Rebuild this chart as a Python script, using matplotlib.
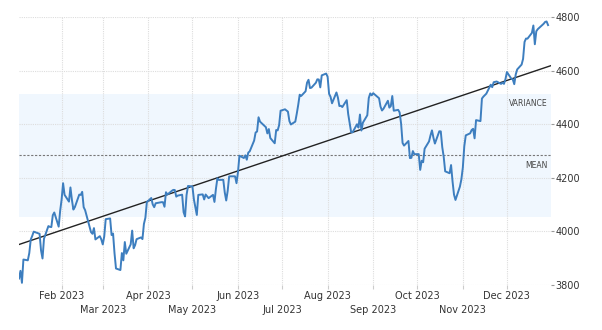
#!/usr/bin/env python3

import numpy as np
import pandas as pd
import matplotlib
matplotlib.use("Agg")
import matplotlib.pyplot as plt
import matplotlib.dates as mdates

# daily closes, 2023
dates = pd.to_datetime([
    "2023-01-03", "2023-01-04", "2023-01-05", "2023-01-06", "2023-01-09", "2023-01-10",
    "2023-01-11", "2023-01-12", "2023-01-13", "2023-01-17", "2023-01-18", "2023-01-19",
    "2023-01-20", "2023-01-23", "2023-01-24", "2023-01-25", "2023-01-26", "2023-01-27",
    "2023-01-30", "2023-01-31", "2023-02-01", "2023-02-02", "2023-02-03", "2023-02-06",
    "2023-02-07", "2023-02-08", "2023-02-09", "2023-02-10", "2023-02-13", "2023-02-14",
    "2023-02-15", "2023-02-16", "2023-02-17", "2023-02-21", "2023-02-22", "2023-02-23",
    "2023-02-24", "2023-02-27", "2023-02-28", "2023-03-01", "2023-03-02", "2023-03-03",
    "2023-03-06", "2023-03-07", "2023-03-08", "2023-03-09", "2023-03-10", "2023-03-13",
    "2023-03-14", "2023-03-15", "2023-03-16", "2023-03-17", "2023-03-20", "2023-03-21",
    "2023-03-22", "2023-03-23", "2023-03-24", "2023-03-27", "2023-03-28", "2023-03-29",
    "2023-03-30", "2023-03-31", "2023-04-03", "2023-04-04", "2023-04-05", "2023-04-06",
    "2023-04-10", "2023-04-11", "2023-04-12", "2023-04-13", "2023-04-14", "2023-04-17",
    "2023-04-18", "2023-04-19", "2023-04-20", "2023-04-21", "2023-04-24", "2023-04-25",
    "2023-04-26", "2023-04-27", "2023-04-28", "2023-05-01", "2023-05-02", "2023-05-03",
    "2023-05-04", "2023-05-05", "2023-05-08", "2023-05-09", "2023-05-10", "2023-05-11",
    "2023-05-12", "2023-05-15", "2023-05-16", "2023-05-17", "2023-05-18", "2023-05-19",
    "2023-05-22", "2023-05-23", "2023-05-24", "2023-05-25", "2023-05-26", "2023-05-30",
    "2023-05-31", "2023-06-01", "2023-06-02", "2023-06-05", "2023-06-06", "2023-06-07",
    "2023-06-08", "2023-06-09", "2023-06-12", "2023-06-13", "2023-06-14", "2023-06-15",
    "2023-06-16", "2023-06-20", "2023-06-21", "2023-06-22", "2023-06-23", "2023-06-26",
    "2023-06-27", "2023-06-28", "2023-06-29", "2023-06-30", "2023-07-03", "2023-07-05",
    "2023-07-06", "2023-07-07", "2023-07-10", "2023-07-11", "2023-07-12", "2023-07-13",
    "2023-07-14", "2023-07-17", "2023-07-18", "2023-07-19", "2023-07-20", "2023-07-21",
    "2023-07-24", "2023-07-25", "2023-07-26", "2023-07-27", "2023-07-28", "2023-07-31",
    "2023-08-01", "2023-08-02", "2023-08-03", "2023-08-04", "2023-08-07", "2023-08-08",
    "2023-08-09", "2023-08-10", "2023-08-11", "2023-08-14", "2023-08-15", "2023-08-16",
    "2023-08-17", "2023-08-18", "2023-08-21", "2023-08-22", "2023-08-23", "2023-08-24",
    "2023-08-25", "2023-08-28", "2023-08-29", "2023-08-30", "2023-08-31", "2023-09-01",
    "2023-09-05", "2023-09-06", "2023-09-07", "2023-09-08", "2023-09-11", "2023-09-12",
    "2023-09-13", "2023-09-14", "2023-09-15", "2023-09-18", "2023-09-19", "2023-09-20",
    "2023-09-21", "2023-09-22", "2023-09-25", "2023-09-26", "2023-09-27", "2023-09-28",
    "2023-09-29", "2023-10-02", "2023-10-03", "2023-10-04", "2023-10-05", "2023-10-06",
    "2023-10-09", "2023-10-10", "2023-10-11", "2023-10-12", "2023-10-13", "2023-10-16",
    "2023-10-17", "2023-10-18", "2023-10-19", "2023-10-20", "2023-10-23", "2023-10-24",
    "2023-10-25", "2023-10-26", "2023-10-27", "2023-10-30", "2023-10-31", "2023-11-01",
    "2023-11-02", "2023-11-03", "2023-11-06", "2023-11-07", "2023-11-08", "2023-11-09",
    "2023-11-10", "2023-11-13", "2023-11-14", "2023-11-15", "2023-11-16", "2023-11-17",
    "2023-11-20", "2023-11-21", "2023-11-22", "2023-11-24", "2023-11-27", "2023-11-28",
    "2023-11-29", "2023-11-30", "2023-12-01", "2023-12-04", "2023-12-05", "2023-12-06",
    "2023-12-07", "2023-12-08", "2023-12-11", "2023-12-12", "2023-12-13", "2023-12-14",
    "2023-12-15", "2023-12-18", "2023-12-19", "2023-12-20", "2023-12-21", "2023-12-22",
    "2023-12-26", "2023-12-27", "2023-12-28", "2023-12-29",
])

closes = np.array([
    3824.14, 3852.97, 3808.10, 3895.08, 3892.09, 3919.25,
    3969.61, 3983.17, 3999.09, 3990.97, 3928.86, 3898.85,
    3972.61, 4019.81, 4016.95, 4016.22, 4060.43, 4070.56,
    4017.77, 4076.60, 4119.21, 4179.76, 4136.48, 4111.08,
    4164.00, 4117.86, 4081.50, 4090.46, 4137.29, 4136.13,
    4147.60, 4090.41, 4079.09, 3997.34, 3991.05, 4012.32,
    3970.04, 3982.24, 3970.15, 3951.39, 3981.35, 4045.64,
    4048.42, 3986.37, 3992.01, 3918.32, 3861.59, 3855.76,
    3919.29, 3891.93, 3960.28, 3916.64, 3951.57, 4002.87,
    3936.97, 3948.72, 3970.99, 3977.53, 3971.27, 4027.81,
    4050.83, 4109.31, 4124.51, 4100.60, 4090.38, 4105.02,
    4109.11, 4108.94, 4091.95, 4146.22, 4137.64, 4151.32,
    4154.87, 4154.52, 4129.79, 4133.52, 4137.04, 4071.63,
    4055.99, 4135.35, 4169.48, 4167.87, 4119.58, 4090.75,
    4061.22, 4136.25, 4138.12, 4119.17, 4137.64, 4130.62,
    4124.08, 4136.28, 4109.90, 4158.77, 4198.05, 4191.98,
    4192.63, 4145.58, 4115.24, 4151.28, 4205.45, 4205.52,
    4179.83, 4221.02, 4282.37, 4273.79, 4283.85, 4267.52,
    4293.93, 4298.86, 4338.93, 4369.01, 4372.59, 4425.84,
    4409.59, 4388.71, 4365.69, 4381.89, 4348.33, 4328.82,
    4378.41, 4376.86, 4396.44, 4450.38, 4455.59, 4446.82,
    4411.59, 4398.95, 4409.53, 4439.26, 4472.16, 4510.04,
    4505.42, 4522.79, 4554.98, 4565.72, 4534.87, 4536.34,
    4554.64, 4567.46, 4566.75, 4537.41, 4582.23, 4588.96,
    4576.73, 4513.39, 4501.89, 4478.03, 4518.44, 4499.38,
    4467.71, 4468.83, 4464.05, 4489.72, 4437.86, 4404.33,
    4370.36, 4369.71, 4399.77, 4387.55, 4436.01, 4376.31,
    4405.71, 4433.31, 4497.63, 4514.87, 4507.66, 4515.77,
    4496.83, 4465.48, 4451.14, 4457.49, 4487.46, 4461.90,
    4467.44, 4505.10, 4450.32, 4453.53, 4443.95, 4402.20,
    4330.00, 4320.06, 4337.44, 4273.53, 4274.51, 4299.70,
    4288.05, 4288.39, 4229.45, 4263.75, 4258.19, 4308.50,
    4335.66, 4358.24, 4376.95, 4349.61, 4327.78, 4373.63,
    4373.20, 4314.60, 4278.00, 4224.16, 4217.04, 4247.68,
    4186.77, 4137.23, 4117.37, 4166.82, 4193.80, 4237.86,
    4317.78, 4358.34, 4365.98, 4378.38, 4382.78, 4347.35,
    4415.24, 4411.55, 4495.70, 4502.88, 4508.24, 4514.02,
    4547.38, 4538.19, 4556.62, 4559.34, 4550.43, 4554.89,
    4550.58, 4567.80, 4594.63, 4569.78, 4567.18, 4549.34,
    4585.59, 4604.37, 4622.44, 4643.70, 4707.09, 4719.55,
    4719.19, 4740.56, 4768.37, 4698.35, 4746.75, 4754.63,
    4774.75, 4781.58, 4783.35, 4769.83,
])

y_ticks = [3800, 4000, 4200, 4400, 4600, 4800]
month_starts = pd.date_range("2023-02-01", "2023-12-01", freq="MS")

LINE = "#3d7ebf"
BAND = "#f0f7fe"
GRID = "#dddddd"
TEXT = "#333333"


def main():
    plt.rcParams["font.family"] = ["DejaVu Sans"]
    fig = plt.figure(figsize=(6.02, 3.30), dpi=100)
    ax = fig.add_axes([19 / 602, 45 / 330, 532 / 602, 268 / 330])

    x0 = pd.Timestamp("2023-01-03")
    x1 = pd.Timestamp("2023-12-31")

    mean = closes.mean()
    std = closes.std()

    # variance band and mean line
    ax.axhspan(mean - std, mean + std, color=BAND, zorder=0, lw=0)
    ax.axhline(mean, color="#777777", lw=0.8, ls=(0, (2, 1.5)), zorder=1)

    # linear trend across the whole range
    t = mdates.date2num(dates)
    slope, intercept = np.polyfit(t, closes, 1)
    tx = np.array([mdates.date2num(x0), mdates.date2num(x1)])
    ax.plot(tx, slope * tx + intercept, color="#222222", lw=1.0, zorder=3)

    ax.plot(dates, closes, color=LINE, lw=1.4, zorder=4, solid_joinstyle="round")

    ax.set_xlim(x0, x1)
    ax.set_ylim(3800, 4800)

    ax.text(0.994, (mean + std - 3800) / 1000 - 0.02, "VARIANCE", transform=ax.transAxes,
            ha="right", va="top", fontsize=5.5, color="#444444")
    ax.text(0.994, (mean - 3800) / 1000 - 0.02, "MEAN", transform=ax.transAxes,
            ha="right", va="top", fontsize=5.5, color="#444444")

    # grid
    for y in y_ticks:
        ax.axhline(y, color=GRID, lw=0.8, ls=(0, (1, 1)), zorder=0.5)
    for m in month_starts:
        ax.axvline(m, color=GRID, lw=0.8, ls=(0, (1, 1)), zorder=0.5)

    for side in ["top", "left", "right", "bottom"]:
        ax.spines[side].set_visible(False)

    ax.yaxis.tick_right()
    ax.set_yticks(y_ticks)
    ax.set_yticklabels([str(v) for v in y_ticks], fontsize=7, color=TEXT)
    ax.tick_params(axis="y", length=2, width=0.8, color="#999999", pad=1)

    # month labels alternate between two rows: even months as major, odd as minor
    upper = month_starts[::2]
    lower = month_starts[1::2]
    ax.set_xticks(upper)
    ax.set_xticklabels([m.strftime("%b %Y") for m in upper], fontsize=7, color=TEXT)
    ax.set_xticks(lower, minor=True)
    ax.set_xticklabels([m.strftime("%b %Y") for m in lower], minor=True, fontsize=7, color=TEXT)
    ax.tick_params(axis="x", which="major", length=3, width=0.8, color="#cccccc", pad=1.5)
    ax.tick_params(axis="x", which="minor", length=3, width=0.8, color="#cccccc", pad=11.5)

    fig.savefig("out.png", dpi=100)


if __name__ == "__main__":
    main()
